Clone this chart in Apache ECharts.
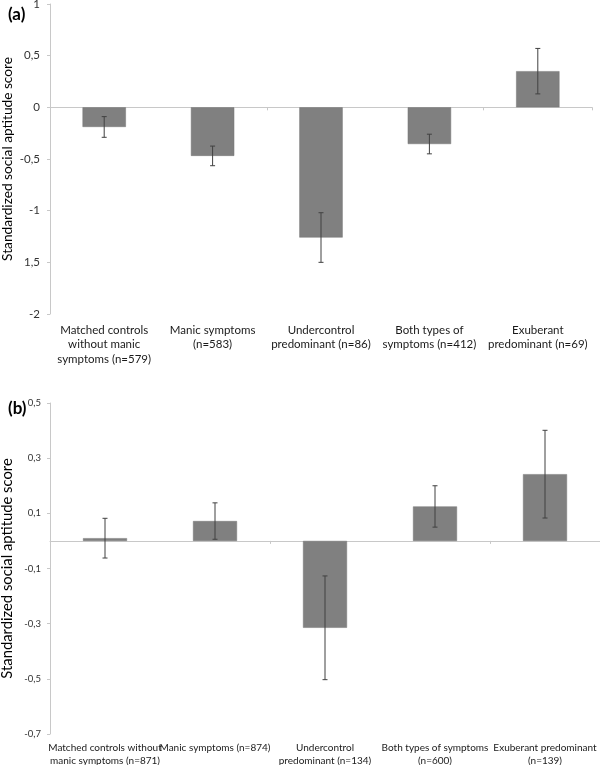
<!DOCTYPE html>
<html><head><meta charset="utf-8">
<script src="https://cdn.jsdelivr.net/npm/echarts@6/dist/echarts.min.js"></script>
<style>html,body{margin:0;padding:0;background:#fff}#c{width:600px;height:765px}</style>
</head><body><div id="c"></div>
<script>
const categoriesA = ["Matched controls\nwithout manic\nsymptoms (n=579)", "Manic symptoms\n(n=583)", "Undercontrol\npredominant (n=86)", "Both types of\nsymptoms (n=412)", "Exuberant\npredominant (n=69)"];
const valuesA = [-0.19, -0.47, -1.26, -0.355, 0.35];
const errorsA = [0.1, 0.095, 0.24, 0.095, 0.22];
const yTicksA = [-2, -1.5, -1, -0.5, 0, 0.5, 1];
const yTickLabelsA = ["-2", "1,5", "-1", "-0,5", "0", "0,5", "1"];

const categoriesB = ["Matched controls without\nmanic symptoms (n=871)", "Manic symptoms (n=874)", "Undercontrol\npredominant (n=134)", "Both types of symptoms\n(n=600)", "Exuberant predominant\n(n=139)"];
const valuesB = [0.01, 0.072, -0.315, 0.125, 0.242];
const errorsB = [0.072, 0.066, 0.188, 0.075, 0.159];
const yTicksB = [-0.7, -0.5, -0.3, -0.1, 0.1, 0.3, 0.5];
const yTickLabelsB = ["-0,7", "-0,5", "-0,3", "-0,1", "0,1", "0,3", "0,5"];

const yName = "Standardized social aptitude score";
const FONT = "Lato";
const axisGray = "#c8c8c8";

function fmt(ticks, labels) {
  return function (v) {
    const i = ticks.findIndex(t => Math.abs(t - v) < 1e-6);
    return i >= 0 ? labels[i] : "";
  };
}

function errSeries(xi, yi, vals, errs) {
  return {
    type: "custom", xAxisIndex: xi, yAxisIndex: yi, z: 10,
    data: vals.map((v, i) => [i, v - errs[i], v + errs[i]]),
    renderItem(params, api) {
      const x = api.value(0);
      const lo = api.coord([x, api.value(1)]);
      const hi = api.coord([x, api.value(2)]);
      const hw = 2.5;
      const style = { stroke: "#404040", lineWidth: 1 };
      return { type: "group", children: [
        { type: "line", shape: { x1: lo[0], y1: lo[1], x2: hi[0], y2: hi[1] }, style },
        { type: "line", shape: { x1: lo[0] - hw, y1: lo[1], x2: lo[0] + hw, y2: lo[1] }, style },
        { type: "line", shape: { x1: hi[0] - hw, y1: hi[1], x2: hi[0] + hw, y2: hi[1] }, style }
      ] };
    }
  };
}

function labelAxis(grid, cats, fs, lh, margin) {
  return { type: "category", gridIndex: grid, data: cats, position: "bottom",
    axisLine: { show: false, onZero: false }, axisTick: { show: false },
    axisLabel: { interval: 0, fontSize: fs, lineHeight: lh, margin: margin, color: "#1a1a1a", fontFamily: FONT } };
}
function zeroAxis(grid, cats) {
  return { type: "category", gridIndex: grid, data: cats, position: "bottom",
    axisLine: { show: true, onZero: true, lineStyle: { color: axisGray, width: 1 } },
    axisTick: { show: true, length: 3, lineStyle: { color: axisGray } },
    axisLabel: { show: false } };
}
function valAxis(grid, min, max, interval, ticks, labels, fs, margin, nameSize) {
  return { type: "value", gridIndex: grid, min, max, interval,
    name: yName, nameLocation: "middle", nameRotate: 90, nameGap: 35, nameMoveOverlap: false,
    nameTextStyle: { fontSize: nameSize, color: "#000", fontFamily: FONT },
    axisLine: { show: true, lineStyle: { color: axisGray } },
    axisTick: { show: true, length: 3, customValues: ticks, lineStyle: { color: axisGray } },
    splitLine: { show: false },
    axisLabel: { customValues: ticks, formatter: fmt(ticks, labels), fontSize: fs, margin, color: "#333", fontFamily: FONT } };
}

const chart = echarts.init(document.getElementById("c"), null, { renderer: "canvas" });
chart.setOption({
  animation: false,
  backgroundColor: "#fff",
  title: [
    { text: "(a)", left: 3, top: 1, textStyle: { fontSize: 17, fontWeight: "bold", color: "#000", fontFamily: FONT } },
    { text: "(b)", left: 3, top: 395, textStyle: { fontSize: 17, fontWeight: "bold", color: "#000", fontFamily: FONT } }
  ],
  grid: [
    { left: 50, top: 4, width: 542, height: 310, containLabel: false, outerBoundsMode: "none" },
    { left: 50, top: 403, width: 550, height: 331, containLabel: false, outerBoundsMode: "none" }
  ],
  xAxis: [
    labelAxis(0, categoriesA, 11.5, 14.5, 9),
    zeroAxis(0, categoriesA),
    labelAxis(1, categoriesB, 10, 12.5, 8),
    zeroAxis(1, categoriesB)
  ],
  yAxis: [
    valAxis(0, -2, 1, 0.5, yTicksA, yTickLabelsA, 11.5, 10, 13.7),
    valAxis(1, -0.7, 0.5, 0.2, yTicksB, yTickLabelsB, 9.5, 9, 14.8)
  ],
  series: [
    { type: "bar", xAxisIndex: 0, yAxisIndex: 0, data: valuesA, barWidth: "40%",
      itemStyle: { color: "#808080", borderColor: "#777", borderWidth: 0.5 } },
    errSeries(0, 0, valuesA, errorsA),
    { type: "bar", xAxisIndex: 2, yAxisIndex: 1, data: valuesB, barWidth: "40%",
      itemStyle: { color: "#808080", borderColor: "#777", borderWidth: 0.5 } },
    errSeries(2, 1, valuesB, errorsB)
  ]
});
</script>
</body></html>
